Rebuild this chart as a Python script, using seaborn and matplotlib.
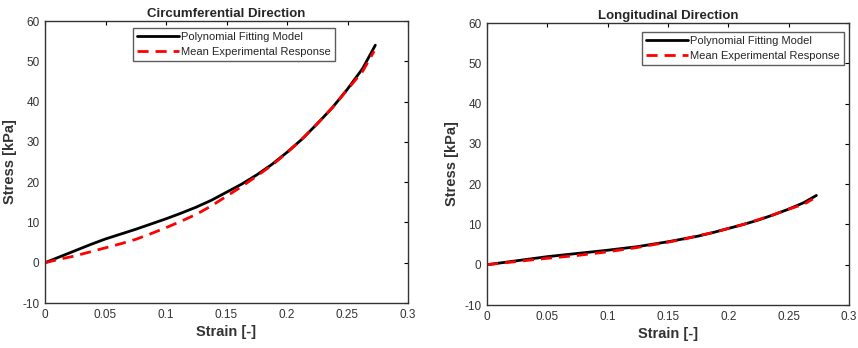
import numpy as np
import pandas as pd
import matplotlib
matplotlib.use("Agg")
import matplotlib.pyplot as plt
import seaborn as sns

# Circumferential direction
circ_strain_fit = [0.0, 0.0125, 0.025, 0.0375, 0.05, 0.0625, 0.075, 0.0875, 0.1, 0.1125, 0.125, 0.1375,
                   0.15, 0.1625, 0.175, 0.1875, 0.2, 0.2125, 0.225, 0.2375, 0.25, 0.2625, 0.273]
circ_stress_fit = [0.0, 1.5, 3.0, 4.5, 5.9, 7.1, 8.3, 9.6, 10.9, 12.3, 13.8, 15.5,
                   17.5, 19.5, 21.8, 24.4, 27.4, 30.7, 34.5, 38.5, 43.1, 48.2, 54.0]
circ_strain_exp = [0.0, 0.0125, 0.025, 0.0375, 0.05, 0.0625, 0.075, 0.0875, 0.1, 0.1125, 0.125, 0.1375,
                   0.15, 0.1625, 0.175, 0.1875, 0.2, 0.2125, 0.225, 0.2375, 0.25, 0.2625, 0.272]
circ_stress_exp = [0.0, 0.9, 1.7, 2.7, 3.7, 4.7, 5.8, 7.2, 8.7, 10.3, 12.0, 14.1,
                   16.5, 18.9, 21.5, 24.2, 27.3, 30.7, 34.5, 38.5, 43.0, 47.5, 52.5]

# Longitudinal direction
long_strain_fit = [0.0, 0.025, 0.05, 0.075, 0.1, 0.125, 0.15, 0.1625, 0.175, 0.1875, 0.2, 0.2125,
                   0.225, 0.2375, 0.25, 0.2625, 0.273]
long_stress_fit = [0.0, 1.0, 2.0, 2.8, 3.6, 4.5, 5.7, 6.4, 7.1, 8.0, 9.0, 10.0,
                   11.1, 12.4, 13.8, 15.4, 17.2]
long_strain_exp = [0.0, 0.025, 0.05, 0.075, 0.1, 0.125, 0.15, 0.1625, 0.175, 0.1875, 0.2, 0.2125,
                   0.225, 0.2375, 0.25, 0.2625, 0.27]
long_stress_exp = [0.0, 0.8, 1.6, 2.3, 3.2, 4.3, 5.6, 6.3, 7.2, 8.0, 9.0, 10.0,
                   11.2, 12.4, 13.8, 15.0, 16.3]

titles = ["Circumferential Direction", "Longitudinal Direction"]
series_labels = ["Polynomial Fitting Model", "Mean Experimental Response"]
x_ticks = [0, 0.05, 0.1, 0.15, 0.2, 0.25, 0.3]
x_tick_labels = ["0", "0.05", "0.1", "0.15", "0.2", "0.25", "0.3"]
y_ticks = [-10, 0, 10, 20, 30, 40, 50, 60]

sns.set_style("white")
plt.rcParams["font.family"] = ["Liberation Sans", "DejaVu Sans"]
plt.rcParams["axes.unicode_minus"] = False

fig = plt.figure(figsize=(8.58, 3.48), dpi=100)
ax1 = fig.add_axes([45/858, 1-303/348, 363/858, 282/348])
ax2 = fig.add_axes([487/858, 1-305/348, 362/858, 282/348])

panels = [
    (ax1, circ_strain_fit, circ_stress_fit, circ_strain_exp, circ_stress_exp, (0.242, 0.975)),
    (ax2, long_strain_fit, long_stress_fit, long_strain_exp, long_stress_exp, (0.428, 0.968)),
]

for i, (ax, xf, yf, xe, ye, anchor) in enumerate(panels):
    df_fit = pd.DataFrame({"Strain": xf, "Stress": yf})
    df_exp = pd.DataFrame({"Strain": xe, "Stress": ye})
    sns.lineplot(data=df_fit, x="Strain", y="Stress", ax=ax, color="black",
                 linewidth=2.0, label=series_labels[0], sort=False)
    sns.lineplot(data=df_exp, x="Strain", y="Stress", ax=ax, color="#ff0000",
                 linewidth=2.0, linestyle=(0, (4, 2.5)), label=series_labels[1], sort=False)
    ax.set_xlim(0, 0.3)
    ax.set_ylim(-10, 60)
    ax.set_xticks(x_ticks)
    ax.set_xticklabels(x_tick_labels)
    ax.set_yticks(y_ticks)
    ax.tick_params(direction="in", top=True, right=True, length=3, width=0.8,
                   labelsize=8.5, colors="black", pad=4)
    for lbl in ax.get_xticklabels() + ax.get_yticklabels():
        lbl.set_color("#333333")
    for sp in ax.spines.values():
        sp.set_color("#333333")
        sp.set_linewidth(1.0)
    ax.set_title(titles[i], fontsize=9.5, fontweight="bold", pad=3)
    ax.set_xlabel("Strain [-]", fontsize=10.5, fontweight="bold", labelpad=3, color="#333333")
    ax.set_ylabel("Stress [kPa]", fontsize=10.5, fontweight="bold", labelpad=4, color="#333333")
    leg = ax.legend(loc="upper left", bbox_to_anchor=anchor, fontsize=8,
                    frameon=True, fancybox=False, borderaxespad=0,
                    handlelength=3.8, handletextpad=0.2, borderpad=0.35,
                    labelspacing=0.45)
    leg.get_frame().set_edgecolor("#333333")
    leg.get_frame().set_linewidth(1.0)

fig.savefig("out.png", dpi=100)
